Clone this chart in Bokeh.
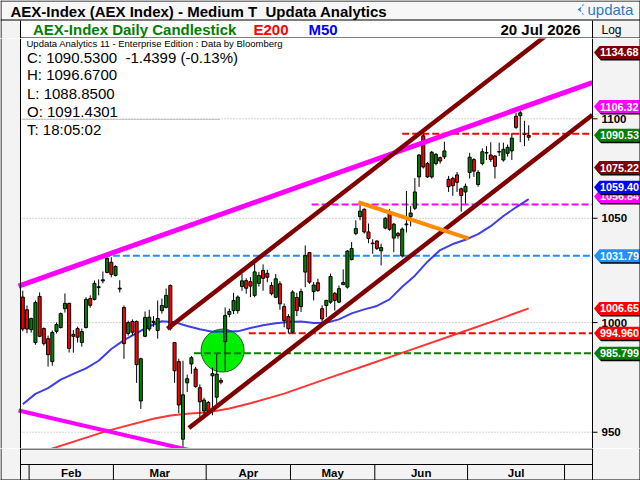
import math
from bokeh.plotting import figure
from bokeh.layouts import column
from bokeh.models import Range1d, Span, ColumnDataSource
from bokeh.core.properties import value
from bokeh.embed import file_html
from bokeh.resources import INLINE

FONT = value("Liberation Sans")
NB = "\u00a0"

# ---------------- data ----------------
first_bar = -2  # bar index of the first candle (Feb 2 = 0)
bar_open = [1012, 1006, 996.7, 990.7, 1012.3, 997.2, 992.5, 981.9, 995.9, 997.7,
            1006.5, 1009.0, 993.6, 997.2, 990.7, 997.7, 1011.3, 1010.9, 1016.5, 1019.7,
            1023.7, 1028.6, 1022.3, 1016.2, 1007.1, 994.9, 1000.5, 1000.5, 964.0, 993.6,
            997.0, 1000.0, 996.3, 1005.6, 1007.1, 1017.5, 990.7, 981.9, 946.9, 972.2,
            980.8, 978.5, 970.0, 959.5, 963.3, 975.4, 965.7, 973.3, 991.1, 1003.8,
            1005.6, 1005.6, 1017.0, 1019.8, 1019.3, 1012.8, 1018.5, 1024.7, 1023.3, 1017.5,
            1011.9, 1018.3, 1007.5, 1002.8, 995.5, 1011.8, 1007.5, 1023.9, 1033.3, 1014.6,
            1018.8, 1006.5, 1008.0, 1009.6, 1013.8, 1009.6, 1017.9, 1016.7, 1029.9, 1042.5,
            1050.8, 1054.4, 1043.3, 1037.9, 1038.9, 1034.1, 1045.2, 1053.0, 1040.3, 1042.6,
            1031.7, 1046.8, 1050.8, 1054.9, 1070.5, 1091.3, 1077.2, 1070.5, 1077.2, 1080.2,
            1080.6, 1069.3, 1069.8, 1071.5, 1064.6, 1063.0, 1072.7, 1079.2, 1066.7, 1077.2,
            1082.5, 1081.5, 1081.0, 1083.3, 1079.0, 1082.4, 1083.6, 1101.3, 1101.6, 1092.0,
            1091.4301]
bar_high = [1015, 1008, 1002.3, 1010.4, 1014.2, 997.7, 993.9, 996.3, 1000.0, 1004.7,
            1013.7, 1009.4, 996.5, 998.1, 997.2, 1011.9, 1012.8, 1019.9, 1020.4, 1024.2,
            1031.0, 1031.0, 1027.1, 1020.0, 1008.0, 1000.9, 1001.5, 1001.0, 983.7, 1005.2,
            1006.0, 1003.0, 1010.4, 1011.3, 1016.1, 1018.0, 990.7, 983.2, 982.3, 976.0,
            984.5, 979.5, 971.5, 965.5, 964.0, 979.2, 985.4, 974.5, 1007.1, 1006.5,
            1014.0, 1012.8, 1023.0, 1020.9, 1021.5, 1028.1, 1024.0, 1027.6, 1025.0, 1019.1,
            1023.0, 1019.5, 1009.0, 1004.0, 1015.2, 1014.0, 1016.0, 1036.7, 1033.6, 1019.1,
            1020.7, 1008.1, 1010.7, 1023.1, 1014.3, 1017.5, 1025.2, 1034.5, 1038.4, 1049.0,
            1058.4, 1054.9, 1047.4, 1039.7, 1039.2, 1037.6, 1050.5, 1054.5, 1047.7, 1043.3,
            1045.5, 1063.5, 1056.0, 1069.9, 1082.0, 1092.3, 1078.0, 1083.6, 1082.4, 1080.7,
            1088.3, 1071.0, 1070.6, 1073.0, 1065.1, 1067.2, 1082.6, 1079.9, 1073.9, 1084.9,
            1086.0, 1088.0, 1081.5, 1087.8, 1087.8, 1086.8, 1092.7, 1103.1, 1104.0, 1099.0,
            1096.67]
bar_low = [996, 995, 995.3, 989.7, 993.2, 989.3, 979.6, 980.0, 994.9, 997.2,
           1004.7, 986.1, 986.0, 990.7, 988.8, 997.2, 1007.0, 1010.4, 1012.8, 1018.5,
           1023.3, 1021.4, 1021.8, 1014.2, 983.2, 993.9, 994.0, 972.2, 960.4, 993.2,
           996.0, 998.0, 992.5, 1004.2, 1006.6, 996.3, 972.2, 958.5, 943.1, 968.0,
           976.3, 970.0, 956.5, 957.2, 958.7, 957.6, 961.5, 971.5, 977.7, 1002.5,
           1004.0, 1004.2, 1015.0, 1013.6, 1012.0, 1011.9, 1017.0, 1015.0, 1019.0, 1012.8,
           1011.5, 1006.0, 997.8, 994.9, 995.0, 1003.0, 1005.0, 1016.7, 1018.3, 1010.4,
           1014.4, 999.4, 1002.5, 1008.8, 1005.6, 1009.1, 1017.9, 1016.0, 1029.5, 1041.7,
           1049.0, 1042.5, 1037.8, 1032.7, 1034.5, 1027.1, 1044.6, 1043.9, 1033.5, 1040.0,
           1030.9, 1043.0, 1046.0, 1054.0, 1065.5, 1074.7, 1070.0, 1069.7, 1076.3, 1077.2,
           1079.5, 1063.0, 1061.1, 1063.0, 1053.2, 1057.2, 1069.7, 1070.5, 1065.6, 1076.3,
           1079.0, 1078.0, 1069.7, 1081.0, 1078.2, 1080.8, 1079.0, 1094.8, 1088.0, 1086.0,
           1088.85]
bar_close = [997, 997, 1001.9, 1009.4, 993.6, 990.2, 985.1, 995.4, 999.1, 1004.2,
             1009.0, 988.0, 994.5, 993.2, 995.8, 1010.9, 1008.1, 1018.5, 1016.9, 1020.2,
             1030.5, 1022.8, 1026.6, 1015.8, 990.2, 1000.0, 995.5, 980.5, 983.2, 1002.4,
             1002.5, 1000.6, 1001.9, 1008.0, 1012.8, 997.2, 977.7, 962.2, 966.8, 974.1,
             983.7, 970.5, 963.6, 964.4, 959.5, 976.4, 976.2, 972.5, 1003.3, 1005.2,
             1010.4, 1012.0, 1019.7, 1016.2, 1017.2, 1024.0, 1022.3, 1020.9, 1021.4, 1013.6,
             1020.7, 1008.8, 1000.9, 997.1, 1014.4, 1005.6, 1014.6, 1031.8, 1019.1, 1017.7,
             1015.1, 1001.7, 1010.4, 1021.8, 1010.4, 1016.0, 1018.9, 1034.0, 1035.2, 1045.0,
             1053.5, 1043.3, 1040.1, 1037.6, 1035.3, 1035.7, 1050.0, 1044.6, 1047.1, 1041.4,
             1044.7, 1047.2, 1052.6, 1063.0, 1081.5, 1075.5, 1070.5, 1082.9, 1081.9, 1078.5,
             1083.6, 1065.6, 1066.1, 1067.8, 1061.2, 1065.8, 1080.4, 1073.4, 1072.8, 1083.2,
             1082.8, 1079.3, 1075.8, 1083.0, 1084.4, 1085.4, 1090.1, 1095.6, 1103.1, 1091.97,
             1090.53]

month_labels = ["Feb", "Mar", "Apr", "May", "Jun", "Jul", ""]
month_start_bar = [0, 20, 42, 62, 82, 104, 127, 134]

m50_bars = [-2, 1, 4, 7, 10, 13, 16, 19, 22, 25, 28, 31, 34, 37, 40, 43, 46, 49, 52, 55,
            58, 61, 64, 67, 70, 73, 76, 79, 82, 85, 88, 91, 94, 97, 100, 103, 106, 109,
            112, 115, 118]
m50_vals = [962.5, 967.2, 969.8, 973.7, 976.3, 978.8, 982.3, 987.7, 991.8, 995.1,
            998.3, 1000.6, 1000.2, 998.4, 996.9, 995.7, 995.8, 995.9, 997.5, 998.7,
            999.7, 1000.3, 1000.5, 999.8, 999.9, 1001.5, 1004.3, 1006.2, 1007.8, 1010.9,
            1016.9, 1022.2, 1028.9, 1034.5, 1037.4, 1039.5, 1042.2, 1046.1, 1051.1, 1055.4,
            1059.4]
e200_bars = [-2, 6, 18, 29, 33, 37, 42, 47, 52, 60, 70, 80, 90, 100, 110, 118]
e200_vals = [938.7, 943.4, 950.6, 956.0, 957.5, 958.2, 958.9, 960.6, 963.0, 967.3,
             974.0, 980.6, 987.3, 994.1, 1000.9, 1006.65]

wedge_upper_bars = [-3, 133.1]
wedge_upper_vals = [1017.2, 1118.8]
wedge_lower_bars = [-3, 40]
wedge_lower_vals = [959.7, 941.0]
channel_up_bars = [32.3, 133.1]
channel_up_vals = [997.1, 1163.0]
channel_lo_bars = [37.4, 133.1]
channel_lo_vals = [951.9, 1102.0]
orange_bars = [77.6, 103.8]
orange_vals = [1057.9, 1040.0]

hline_levels = [1031.79, 1056.84, 1092.3, 994.96, 985.799]
hline_start = [17, 66.5, 88, 51.6, 38.6]
hline_colors = ["#1e90ff", "#ff00ff", "#ff0000", "#ff0000", "#008000"]

circle_bar = 45.4
circle_price = 987.0

tag_values = [1134.68, 1106.32, 1090.53, 1075.22, 1056.84, 1059.40, 1031.79, 1006.65, 994.96, 985.799]
tag_texts = ["1134.68", "1106.32", "1090.53", "1075.22", "1056.84", "1059.40", "1031.79",
             "1006.65", "994.960", "985.799"]
tag_colors = ["#800000", "#ff00ff", "#008000", "#800000", "#ff00ff", "#0000ff", "#1e90ff",
              "#ff0000", "#ff0000", "#008000"]
tag_shift_px = [0, 0, -2, 0, -8, -12, 0, 0, 0, 0]

yticks = [950, 1000, 1050, 1100]
ytick_labels = ["950", "1000", "1050", "1100"]

# ---------------- layout helpers ----------------
BAR_PX = 4.216
X0_PX = 28.6
PLOT_TOP_PX, PLOT_BOT_PX = 38, 448
Y_LO, Y_HI = 942.8, 1142.1
GRAY = "#f3f3f3"


def kx(px):
    return (px - X0_PX) / BAR_PX - 0.5


def py(pxy):
    frac = (PLOT_BOT_PX - pxy) / (PLOT_BOT_PX - PLOT_TOP_PX)
    return math.exp(math.log(Y_LO) + frac * (math.log(Y_HI) - math.log(Y_LO)))


def pshift(price, dpx):
    lpp = (math.log(Y_HI) - math.log(Y_LO)) / (PLOT_BOT_PX - PLOT_TOP_PX)
    return price * math.exp(-dpx * lpp)


XR = Range1d(kx(0), kx(640))


def bare(fig):
    fig.min_border = 0
    fig.min_border_left = fig.min_border_right = fig.min_border_top = fig.min_border_bottom = 0
    fig.outline_line_color = None
    fig.xgrid.visible = False
    fig.ygrid.visible = False
    fig.background_fill_color = "white"
    fig.border_fill_color = GRAY
    return fig


# ---------------- header ----------------
ph = bare(figure(width=640, height=38, x_range=Range1d(0, 640), y_range=Range1d(38, 0),
                 output_backend="svg", toolbar_location=None,
                 x_axis_location=None, y_axis_location=None))
ph.quad(left=[0], right=[640], top=[0], bottom=[38], fill_color=GRAY, line_color=None)
ph.quad(left=[0], right=[640], top=[0], bottom=[20], fill_color="#f7f7f7", line_color=None)
ph.quad(left=[20], right=[592], top=[20], bottom=[38], fill_color="white", line_color=None)
ph.segment(x0=[0, 0, 20, 592, 0.5, 639.5, 20], y0=[0.5, 19.5, 20, 20, 0, 0, 37.5],
           x1=[640, 640, 20, 592, 0.5, 639.5, 640], y1=[0.5, 19.5, 38, 38, 38, 38, 37.5],
           line_color="black", line_width=1)
ph.text(x=[10], y=[10.5], text=["AEX-Index (AEX Index) - Medium T" + NB + " Updata Analytics"],
        text_font=FONT, text_font_size="15px", text_font_style="bold", text_color="black",
        text_baseline="middle")
ph.patch(x=[584, 577, 584, 582, 580, 582], y=[4, 9, 14, 14, 9, 4], fill_color="#3a7fc1", line_color=None)
ph.text(x=[587], y=[9], text=["updata"], text_font=FONT, text_font_size="15px",
        text_color="#2f78bd", text_baseline="middle")
ph.text(x=[32.5], y=[29], text=["AEX-Index Daily Candlestick"], text_font=FONT,
        text_font_size="15px", text_font_style="bold", text_color="#008000", text_baseline="middle")
ph.text(x=[253], y=[29], text=["E200"], text_font=FONT, text_font_size="15px",
        text_font_style="bold", text_color="#ff0000", text_baseline="middle")
ph.text(x=[308], y=[29], text=["M50"], text_font=FONT, text_font_size="15px",
        text_font_style="bold", text_color="#0000ff", text_baseline="middle")
ph.text(x=[580], y=[29], text=["20 Jul 2026"], text_font=FONT, text_font_size="15px",
        text_font_style="bold", text_color="black", text_baseline="middle", text_align="right")
ph.text(x=[611], y=[29], text=["Log"], text_font=FONT, text_font_size="12px",
        text_color="black", text_baseline="middle", text_align="center")

# ---------------- main chart ----------------
p = bare(figure(width=640, height=410, x_range=XR, y_range=Range1d(Y_LO, Y_HI),
                y_axis_type="log", output_backend="svg", toolbar_location=None,
                x_axis_location=None, y_axis_location=None))
p.quad(left=[kx(0)], right=[kx(20)], bottom=[Y_LO], top=[Y_HI], fill_color=GRAY, line_color=None)
p.quad(left=[kx(592)], right=[kx(640)], bottom=[Y_LO], top=[Y_HI], fill_color=GRAY, line_color=None)
for xp in (0.5, 20, 592, 639.5):
    p.add_layout(Span(location=kx(xp), dimension="height", line_color="black", line_width=1))

# grid
p.segment(x0=[kx(20)] * len(yticks), x1=[kx(592)] * len(yticks), y0=yticks, y1=yticks,
          line_color="#aaaaaa", line_width=1, line_dash="1 2")
# ticks + labels on right
p.segment(x0=[kx(592)] * len(yticks), x1=[kx(597)] * len(yticks), y0=yticks, y1=yticks,
          line_color="black", line_width=1)
p.text(x=[kx(601)] * len(yticks), y=yticks, text=ytick_labels, text_font=FONT,
       text_font_size="11.5px", text_font_style="bold", text_color="black", text_baseline="middle")

# circle
p.scatter(x=[circle_bar], y=[circle_price], size=43, marker="circle",
          fill_color="#00ee00", line_color="#1a5f1a", line_width=1)

# horizontal dashed levels
for lv, st, col in zip(hline_levels, hline_start, hline_colors):
    p.line(x=[st, kx(592)], y=[lv, lv], line_color=col, line_width=2, line_dash="7 3")

# moving averages
p.line(x=e200_bars, y=e200_vals, line_color="#ff2020", line_width=2, line_alpha=0.9)
p.line(x=m50_bars, y=m50_vals, line_color="#2a2ae6", line_width=2, line_alpha=0.9)

# candles
n = len(bar_open)
bars = list(range(first_bar, first_bar + n))
src = ColumnDataSource(dict(
    x=bars, h=bar_high, l=bar_low,
    top=[max(o, c) for o, c in zip(bar_open, bar_close)],
    bot=[min(o, c) for o, c in zip(bar_open, bar_close)],
    col=["#008000" if c >= o else "#ff0000" for o, c in zip(bar_open, bar_close)],
))
p.segment(x0="x", y0="l", x1="x", y1="h", source=src, line_color="black", line_width=1)
p.vbar(x="x", width=0.72, top="top", bottom="bot", fill_color="col", line_color="black",
       line_width=1, source=src)

# trend lines
p.line(x=wedge_upper_bars, y=wedge_upper_vals, line_color="#ff00ff", line_width=5)
p.line(x=wedge_lower_bars, y=wedge_lower_vals, line_color="#ff00ff", line_width=4)
p.line(x=channel_up_bars, y=channel_up_vals, line_color="#800000", line_width=4.5)
p.line(x=channel_lo_bars, y=channel_lo_vals, line_color="#800000", line_width=4.5)
p.line(x=orange_bars, y=orange_vals, line_color="#ff8c00", line_width=4)

# info text
p.text(x=[kx(26)], y=[py(43)], text=["Updata Analytics 11 - Enterprise Edition : Data by Bloomberg"],
       text_font=FONT, text_font_size="9.5px", text_color="black", text_baseline="middle")
info_lines = ["C: 1090.5300" + NB + " -1.4399 (-0.13%)", "H: 1096.6700", "L: 1088.8500",
              "O: 1091.4301", "T: 18:05:02"]
info_y = [56.5, 74, 92.5, 110.5, 129]
p.text(x=[kx(26.5)] * len(info_lines), y=[py(v) for v in info_y], text=info_lines,
       text_font=FONT, text_font_size="15px", text_color="black", text_baseline="middle")
p.line(x=[kx(22), kx(220)], y=[py(119), py(119)], line_color="#999999", line_width=1,
       line_dash="1 1")

# price tags
tip, body_l, body_r = kx(593.5), kx(599), kx(648)
for val, txt, col, sh in zip(tag_values, tag_texts, tag_colors, tag_shift_px):
    yc = pshift(val, sh)
    yt, yb = pshift(yc, -6.5), pshift(yc, 6.5)
    ytb, ybb = pshift(yc, -5), pshift(yc, 8)
    p.patch(x=[kx(595), kx(600.5), kx(650), kx(650), kx(600.5)],
            y=[pshift(yc, 1.5), ytb, ytb, ybb, ybb], fill_color="black", line_color=None)
    p.patch(x=[tip, body_l, body_r, body_r, body_l], y=[yc, yt, yt, yb, yb],
            fill_color=col, line_color=None)
    p.text(x=[kx(599.5)], y=[yc], text=[txt], text_font=FONT, text_font_size="10.8px",
           text_font_style="bold", text_color="white", text_baseline="middle")

# ---------------- bottom month strip ----------------
pb = bare(figure(width=640, height=32, x_range=XR, y_range=Range1d(32, 0),
                 output_backend="svg", toolbar_location=None,
                 x_axis_location=None, y_axis_location=None))
pb.quad(left=[kx(0)], right=[kx(640)], top=[0], bottom=[32], fill_color=GRAY, line_color=None)
pb.segment(x0=[kx(20), kx(20), kx(0)], x1=[kx(592), kx(592), kx(640)], y0=[0.5, 16, 31.5],
           y1=[0.5, 16, 31.5], line_color="black", line_width=1)
pb.segment(x0=[kx(0.5), kx(20), kx(592), kx(639.5)], x1=[kx(0.5), kx(20), kx(592), kx(639.5)],
           y0=[0, 0, 0, 0], y1=[32, 32, 32, 32], line_color="black", line_width=1)
seps = [b - 0.5 for b in month_start_bar[:-1]]
pb.segment(x0=seps, x1=seps, y0=[16] * len(seps), y1=[32] * len(seps), line_color="black",
           line_width=1)
centers = [(month_start_bar[i] + month_start_bar[i + 1]) / 2 - 0.5 for i in range(len(month_labels))]
pb.text(x=centers, y=[24.5] * len(centers), text=month_labels, text_font=FONT,
        text_font_size="11.5px", text_font_style="bold", text_color="black",
        text_baseline="middle", text_align="center")

layout = column(ph, p, pb, spacing=0)
open("out.html", "w").write(file_html(layout, INLINE))
